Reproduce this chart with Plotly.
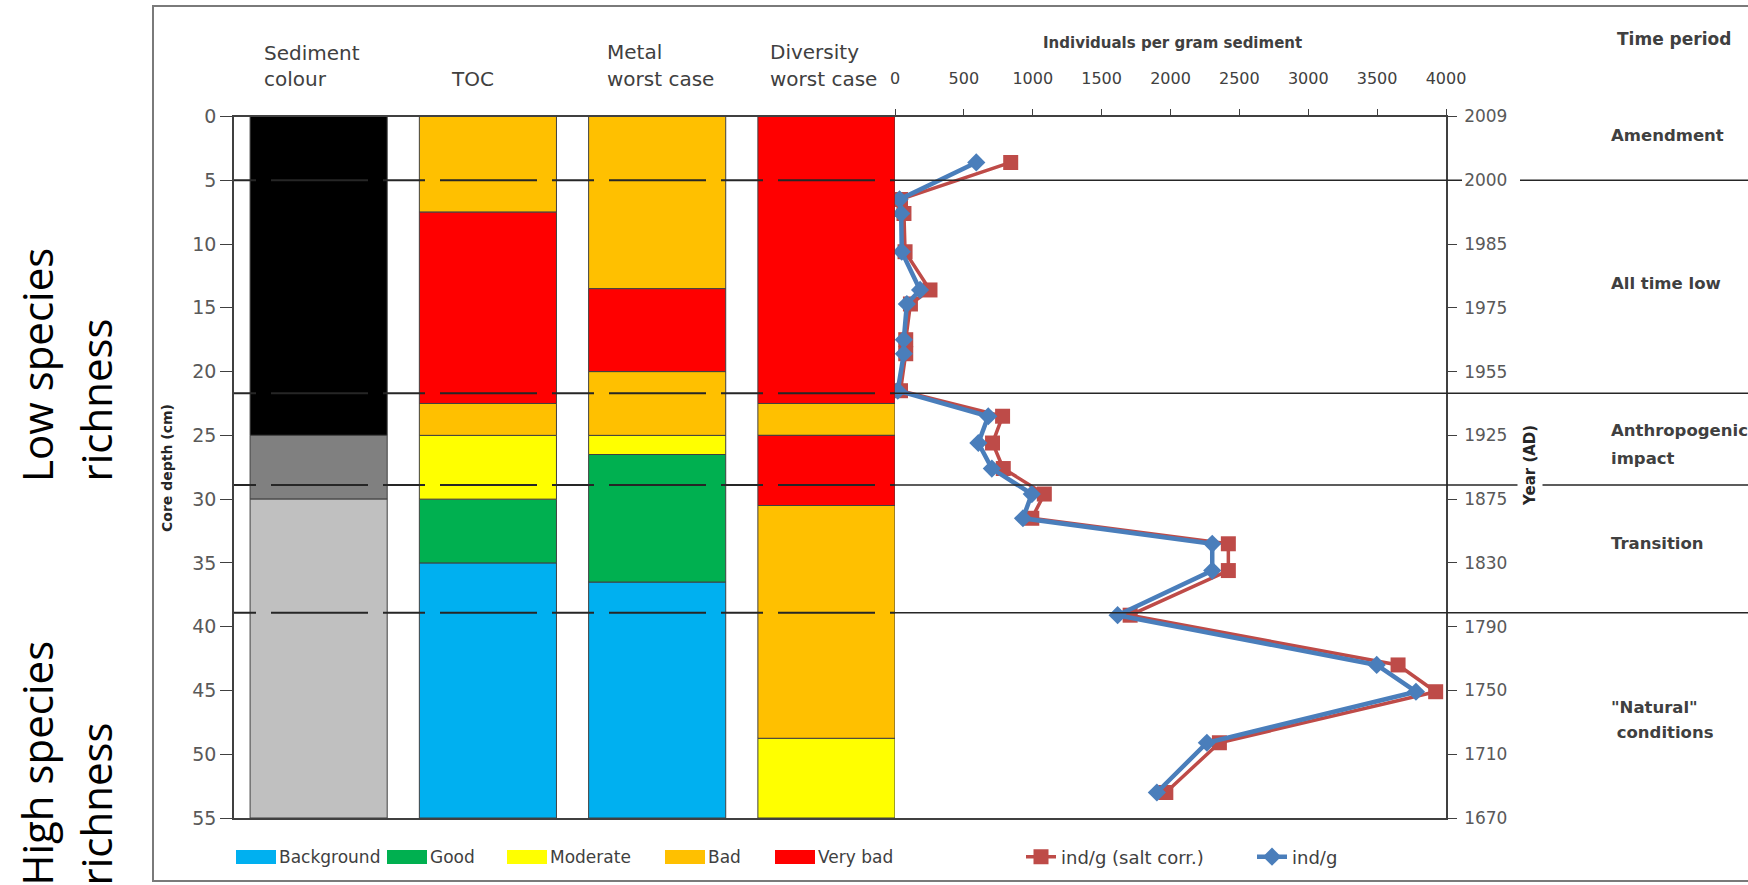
import plotly.graph_objects as go

# ---------------------------------------------------------------- data
columns = ["Sediment colour", "TOC", "Metal worst case", "Diversity worst case"]

# sediment colour column: depth intervals (cm) and fill
sed_top = [0, 25, 30]
sed_bottom = [25, 30, 55]
sed_fill = ["#000000", "#808080", "#C0C0C0"]

# status classes used in the other three columns
classes = ["Background", "Good", "Moderate", "Bad", "Very bad"]
class_colours = ["#00B0F0", "#00B050", "#FFFF00", "#FFC000", "#FF0000"]

toc_top = [0, 7.5, 22.5, 25, 30, 35]
toc_bottom = [7.5, 22.5, 25, 30, 35, 55]
toc_class = ["Bad", "Very bad", "Bad", "Moderate", "Good", "Background"]

metal_top = [0, 13.5, 20, 25, 26.5, 36.5]
metal_bottom = [13.5, 20, 25, 26.5, 36.5, 55]
metal_class = ["Bad", "Very bad", "Bad", "Moderate", "Good", "Background"]

div_top = [0, 22.5, 25, 30.5, 48.75]
div_bottom = [22.5, 25, 30.5, 48.75, 55]
div_class = ["Very bad", "Bad", "Very bad", "Bad", "Moderate"]

# foraminifera counts down the core
sample_depth = [3.6, 6.5, 7.6, 10.6, 13.6, 14.7, 17.5, 18.6, 21.5, 23.5, 25.6,
                27.6, 29.6, 31.5, 33.5, 35.6, 39.1, 43.0, 45.1, 49.1, 53.0]
ind_salt_corr = [840, 40, 65, 73, 254, 112, 78, 78, 40, 781, 708,
                 786, 1084, 993, 2420, 2420, 1707, 3652, 3925, 2355, 1966]
ind_per_g = [590, 33, 45, 49, 182, 86, 64, 64, 20, 677, 605,
             703, 993, 929, 2303, 2303, 1616, 3497, 3782, 2264, 1901]

depth_ticks = [0, 5, 10, 15, 20, 25, 30, 35, 40, 45, 50, 55]
year_labels = ["2009", "2000", "1985", "1975", "1955", "1925",
               "1875", "1830", "1790", "1750", "1710", "1670"]
count_ticks = [0, 500, 1000, 1500, 2000, 2500, 3000, 3500, 4000]

# time-period boundaries (depth, cm) and period names with their label depth
period_bounds = [5, 21.7, 28.9, 38.9]
period_names = ["Amendment", "All time low", "Anthropogenic", "impact",
                "Transition", "\"Natural\"", "\u00a0conditions"]
period_label_depth = [1.5, 13.1, 24.6, 26.8, 33.5, 46.3, 48.3]

# ---------------------------------------------------------------- layout helpers
W, H = 1748, 885


def px(x):
    return x / W


def py(y):
    return 1 - y / H


DEPTH_TOP, DEPTH_BOT = 116.5, 818      # pixel rows of 0 cm and 55 cm
X_AXIS_L, X_SPLIT, X_AXIS_R = 234, 895, 1446
INK = "#404040"
FONT = "DejaVu Sans"

fig = go.Figure()

# ---------------------------------------------------------------- stacked columns
fig.add_trace(go.Bar(
    x=[0] * len(sed_top), base=sed_top,
    y=[b - t for t, b in zip(sed_top, sed_bottom)],
    width=0.81, marker=dict(color=sed_fill, line=dict(color=INK, width=1)),
    showlegend=False, hoverinfo="skip", xaxis="x", yaxis="y"))

col_data = [(1, toc_top, toc_bottom, toc_class),
            (2, metal_top, metal_bottom, metal_class),
            (3, div_top, div_bottom, div_class)]
for cls, colour in zip(classes, class_colours):
    xs, bases, lens = [], [], []
    for ci, tops, bots, labs in col_data:
        for t, b, lab in zip(tops, bots, labs):
            if lab == cls:
                xs.append(ci)
                bases.append(t)
                lens.append(b - t)
    fig.add_trace(go.Bar(
        x=xs, base=bases, y=lens, width=0.81, name=cls,
        marker=dict(color=colour, line=dict(color=INK, width=1)),
        showlegend=False, hoverinfo="skip", xaxis="x", yaxis="y"))

# ---------------------------------------------------------------- count profiles
fig.add_trace(go.Scatter(
    x=ind_salt_corr, y=sample_depth, name="ind/g (salt corr.)",
    mode="lines+markers", xaxis="x2", yaxis="y",
    line=dict(color="#BE4B48", width=3.5),
    marker=dict(symbol="square", size=15, color="#BE4B48")))
fig.add_trace(go.Scatter(
    x=ind_per_g, y=sample_depth, name="ind/g",
    mode="lines+markers", xaxis="x2", yaxis="y",
    line=dict(color="#4A7EBB", width=4.5),
    marker=dict(symbol="diamond", size=14, color="#4A7EBB")))

# year axis carrier (no visible marks)
fig.add_trace(go.Scatter(
    x=[0] * len(depth_ticks), y=depth_ticks, xaxis="x2", yaxis="y2",
    mode="markers", marker=dict(size=1, opacity=0), showlegend=False,
    hoverinfo="skip"))

# ---------------------------------------------------------------- axes
fig.update_layout(
    width=W, height=H,
    margin=dict(l=0, r=0, t=0, b=0, autoexpand=False),
    paper_bgcolor="white", plot_bgcolor="white",
    barmode="overlay",
    xaxis=dict(domain=[px(X_AXIS_L), px(X_SPLIT)], range=[-0.5, 3.405],
               showticklabels=False, ticks="", showgrid=False, zeroline=False,
               showline=True, mirror=True, linecolor=INK, linewidth=1.5,
               automargin=False),
    yaxis=dict(domain=[py(DEPTH_BOT), py(DEPTH_TOP)], range=[55, 0],
               tickvals=depth_ticks, ticks="outside", ticklen=12, tickcolor=INK,
               showline=True, linecolor=INK, linewidth=1.5, showgrid=False,
               zeroline=False, automargin=False, anchor="x",
               tickfont=dict(family=FONT, size=19, color="#595959")),
    xaxis2=dict(domain=[px(X_SPLIT), px(X_AXIS_R)], range=[0, 4000],
                side="top", anchor="y", tickvals=count_ticks, ticks="outside",
                ticklen=6, tickcolor=INK, showline=True, mirror=True,
                linecolor=INK, linewidth=1.5, showgrid=False, zeroline=False,
                automargin=False,
                tickfont=dict(family=FONT, size=16, color=INK),
                ticklabelstandoff=18),
    yaxis2=dict(overlaying="y", anchor="x2", side="right", range=[55, 0],
                tickvals=depth_ticks, ticktext=year_labels, ticks="outside",
                ticklen=9, tickcolor=INK, showline=True, linecolor=INK,
                linewidth=1.5, showgrid=False, zeroline=False,
                automargin=False, ticklabelstandoff=4,
                tickfont=dict(family=FONT, size=17, color="#595959")),
    legend=dict(orientation="h", x=px(1021), xanchor="left", y=py(857),
                yanchor="middle", font=dict(family=FONT, size=18, color=INK),
                bgcolor="rgba(0,0,0,0)", entrywidth=186),
    showlegend=True,
)

# ---------------------------------------------------------------- period boundaries
shapes = []
for b in period_bounds:
    # long-dash rule through the status columns
    shapes.append(dict(type="line", xref="paper", yref="y",
                       x0=px(X_AXIS_L), x1=px(X_SPLIT), y0=b, y1=b,
                       line=dict(color="#262626", width=2,
                                 dash="22px,15px,97px,15px,20px,0px")))
    if b == period_bounds[0]:
        # the 2000 tick label interrupts the first boundary
        shapes.append(dict(type="line", xref="paper", yref="y",
                           x0=px(X_SPLIT), x1=px(1462), y0=b, y1=b,
                           line=dict(color="#262626", width=1.5)))
        shapes.append(dict(type="line", xref="paper", yref="y",
                           x0=px(1520), x1=1.01, y0=b, y1=b,
                           line=dict(color="#262626", width=1.5)))
    else:
        shapes.append(dict(type="line", xref="paper", yref="y",
                           x0=px(X_SPLIT), x1=1.01, y0=b, y1=b,
                           line=dict(color="#262626", width=1.5)))

# outer frame
shapes.append(dict(type="rect", xref="paper", yref="paper",
                   x0=px(153), x1=1.02, y0=py(881), y1=py(6),
                   line=dict(color="#7a7a7a", width=2), fillcolor="rgba(0,0,0,0)",
                   layer="below"))

# colour key swatches
key_swatch_x = [236, 387, 507, 665, 775]
key_swatch_w = 40
for sx, colour in zip(key_swatch_x, class_colours):
    shapes.append(dict(type="rect", xref="paper", yref="paper",
                       x0=px(sx), x1=px(sx + key_swatch_w), y0=py(864), y1=py(850),
                       line=dict(width=0), fillcolor=colour))
fig.update_layout(shapes=shapes)

# ---------------------------------------------------------------- text
ann = []


def text(x, y, s, size=16, color=INK, bold=False, xanchor="left",
         yanchor="middle", family=FONT, angle=0, bg=None, align="left"):
    d = dict(xref="paper", yref="paper", x=px(x), y=py(y), text=s,
             showarrow=False, xanchor=xanchor, yanchor=yanchor, align=align,
             textangle=angle,
             font=dict(family=family, size=size, color=color,
                       weight="bold" if bold else "normal"))
    if bg:
        d["bgcolor"] = bg
        d["borderpad"] = 3
    ann.append(d)


# column headers
text(262, 53, "Sediment", size=20)
text(262, 79, "colour", size=20)
text(472, 79, "TOC", size=20, xanchor="center")
text(605, 52, "Metal", size=20)
text(605, 79, "worst case", size=20)
text(768, 52, "Diversity", size=20)
text(768, 79, "worst case", size=20)

text(1172, 43, "Individuals per gram sediment", size=15, bold=True,
     xanchor="center")
text(1674, 39, "Time period", size=17, bold=True, xanchor="center")

# period names
for name, d in zip(period_names, period_label_depth):
    ann.append(dict(xref="paper", yref="y", x=px(1609), y=d, text=name,
                    showarrow=False, xanchor="left", yanchor="middle",
                    font=dict(family=FONT, size=16.5, color=INK, weight="bold")))

# axis titles
text(167, 468, "Core depth (cm)", size=14, bold=True, xanchor="center",
     angle=-90, color="#262626")
text(1530, 466, "Year (AD)", size=15, bold=True, xanchor="center",
     angle=-90, color="#262626", bg="white")

# species richness side labels
text(36, 484, "Low species", size=42, color="black", family="Open Sans",
     xanchor="center", yanchor="bottom", angle=-90)
text(95, 484, "richness", size=42, color="black", family="Open Sans",
     xanchor="center", yanchor="bottom", angle=-90)
text(36, 888, "High species", size=42, color="black", family="Open Sans",
     xanchor="center", yanchor="bottom", angle=-90)
text(95, 888, "richness", size=42, color="black", family="Open Sans",
     xanchor="center", yanchor="bottom", angle=-90)

# colour key labels
for sx, cls in zip(key_swatch_x, classes):
    text(sx + key_swatch_w + 1, 857, cls, size=17)

fig.update_layout(annotations=ann)

fig.write_html("out.html")
